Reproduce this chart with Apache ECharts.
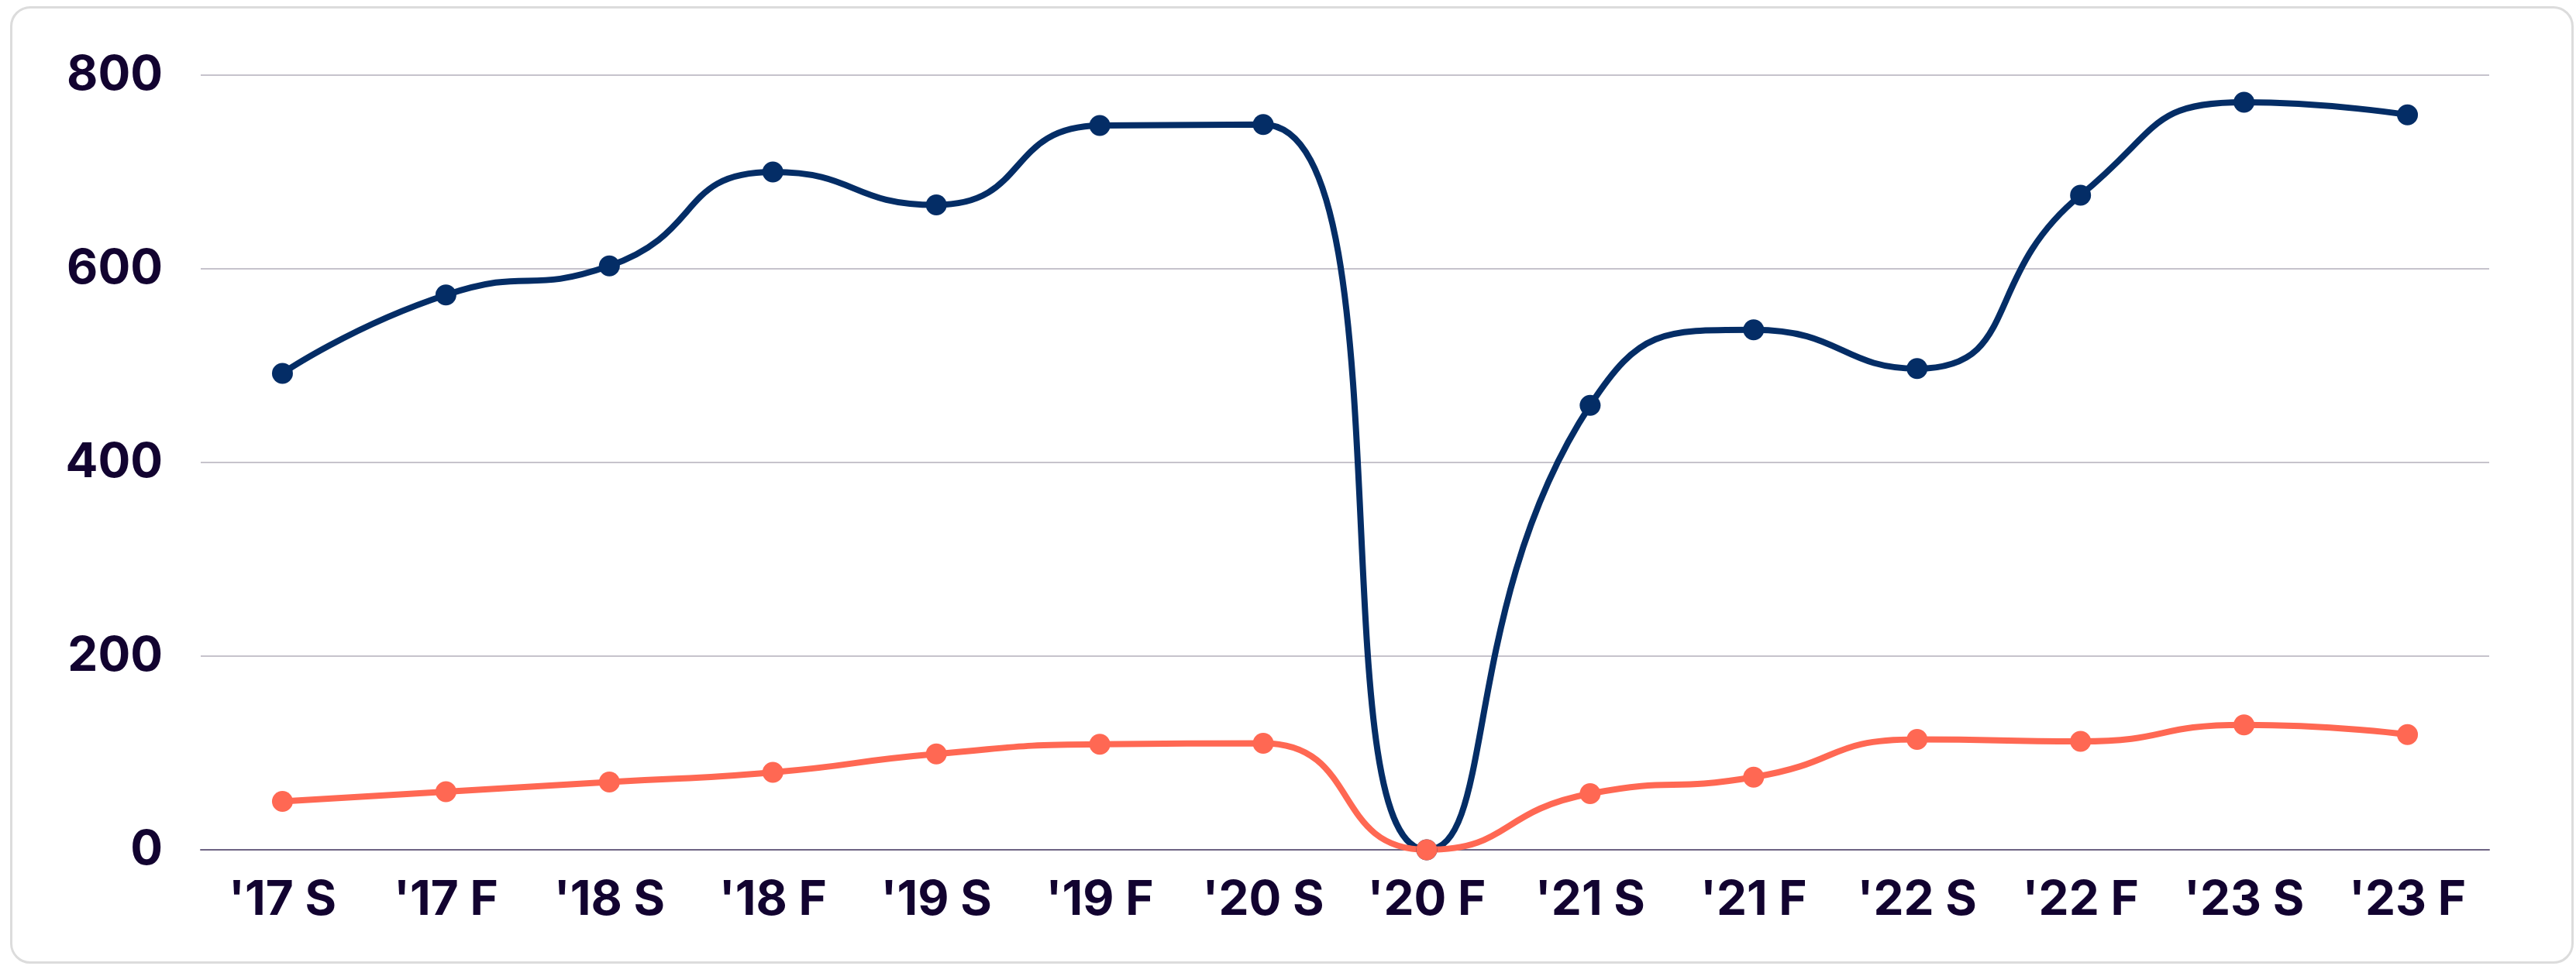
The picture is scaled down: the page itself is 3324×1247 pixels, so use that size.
<!DOCTYPE html>
<html>
<head>
<meta charset="utf-8">
<script src="https://cdn.jsdelivr.net/npm/echarts@6/dist/echarts.min.js"></script>
<style>
    html, body { margin: 0; padding: 0; background: #fff; }
    #frame {
        position: absolute; left: 13px; top: 8px;
        width: 3308px; height: 1236px;
        box-sizing: border-box;
        border: 3px solid #dcdcdc; border-radius: 26px;
    }
    #chart { position: absolute; left: 0; top: 0; width: 3324px; height: 1247px; }
</style>
</head>
<body>
<div id="frame"></div>
<div id="chart"></div>
<script>
const terms = ["'17 S", "'17 F", "'18 S", "'18 F", "'19 S", "'19 F", "'20 S", "'20 F", "'21 S", "'21 F", "'22 S", "'22 F", "'23 S", "'23 F"];
const navyValues = [492, 573, 603, 700, 666, 748, 749, 0, 459, 537, 497, 676, 772, 759];
const orangeValues = [50, 60, 70, 80, 99, 109, 110, 0, 58, 75, 114, 112, 129, 119];

let myChart = null;

function initChart() {
    myChart = echarts.init(document.getElementById('chart'));
    const labelFont = {
        color: '#120330',
        fontFamily: 'Inter',
        fontWeight: 700,
        fontSize: 62
    };
    const option = {
        animation: false,
        grid: { left: 259, right: 112, top: 97, bottom: 150 },
        xAxis: {
            type: 'category',
            data: terms,
            boundaryGap: true,
            axisLine: { lineStyle: { color: '#6e6483', width: 2 } },
            axisTick: { show: false },
            axisLabel: Object.assign({ margin: 34 }, labelFont)
        },
        yAxis: {
            type: 'value',
            min: 0,
            max: 800,
            interval: 200,
            axisLine: { show: false },
            axisTick: { show: false },
            splitLine: { lineStyle: { color: '#c6c3cc', width: 2 } },
            axisLabel: Object.assign({ margin: 49 }, labelFont)
        },
        series: [
            {
                type: 'line',
                data: navyValues,
                smooth: 0.55,
                symbol: 'circle',
                symbolSize: 27,
                lineStyle: { color: '#042d66', width: 8 },
                itemStyle: { color: '#042d66' }
            },
            {
                type: 'line',
                data: orangeValues,
                smooth: 0.55,
                symbol: 'circle',
                symbolSize: 27,
                lineStyle: { color: '#ff6853', width: 8 },
                itemStyle: { color: '#ff6853' }
            }
        ]
    };
    myChart.setOption(option);
}

window.onload = initChart;
</script>
</body>
</html>
